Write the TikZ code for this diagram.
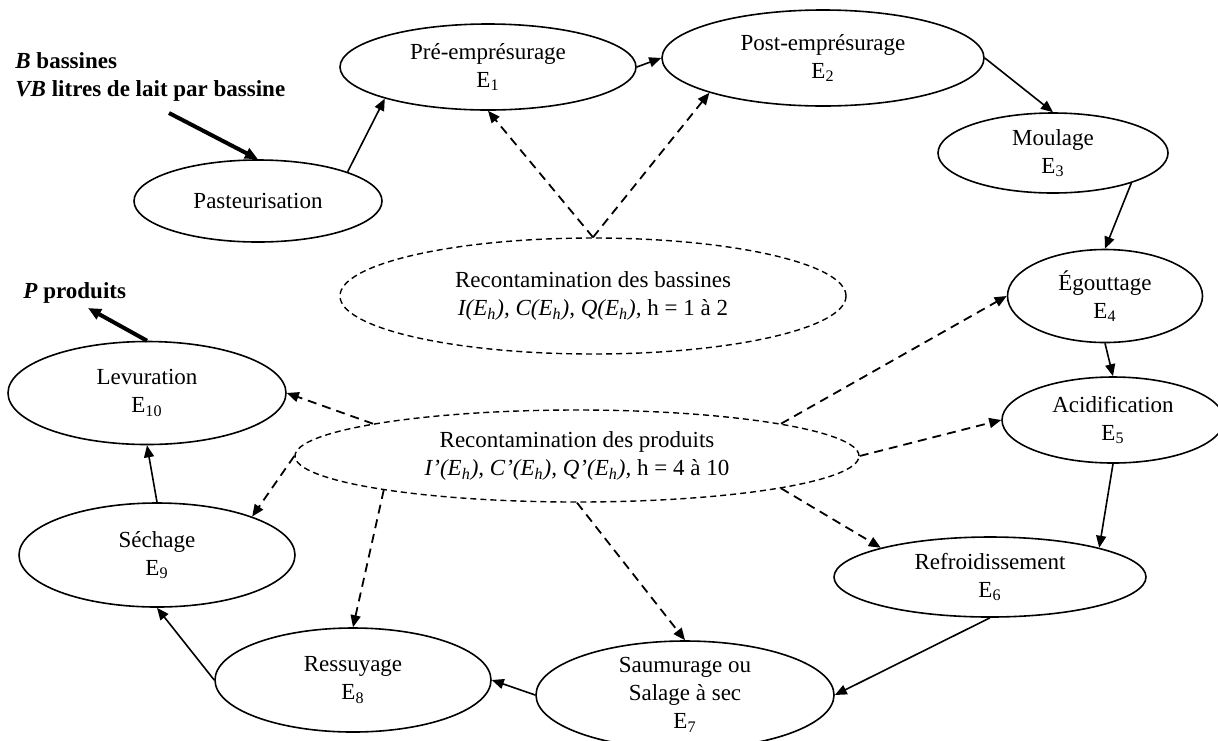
\documentclass[tikz,border=0pt]{standalone}
\usepackage{fontspec}
\setmainfont{Liberation Serif}
\usepackage{tikz}
\usetikzlibrary{arrows.meta, shapes.geometric}

\begin{document}
\begin{tikzpicture}[x=0.5pt, y=-0.5pt,
    font=\fontsize{11.5}{14}\selectfont,
    etape/.style={ellipse, draw, line width=0.8pt, inner sep=0pt, align=center},
    recont/.style={ellipse, draw, line width=0.7pt, dash pattern=on 3pt off 2pt, inner sep=0pt, align=center},
    arr/.style={-{Triangle[length=6pt, width=5pt]}, line width=0.8pt},
    darr/.style={arr, line width=0.9pt, dash pattern=on 4.5pt off 3pt},
    bigarr/.style={-{Triangle[length=6.5pt, width=5.5pt]}, line width=2pt}
  ]
    \useasboundingbox (0,0) rectangle (1218,740);

    \node[etape, minimum width=124pt, minimum height=41pt] (past) at (258,201) {Pasteurisation};
    \node[etape, minimum width=148pt, minimum height=43pt] (pre) at (488,67) {Pré-emprésurage\\ E\textsubscript{1}};
    \node[etape, minimum width=161pt, minimum height=48pt] (post) at (823,58) {Post-emprésurage\\ E\textsubscript{2}};
    \node[etape, minimum width=115pt, minimum height=40pt] (moul) at (1053,153) {Moulage\\ E\textsubscript{3}};
    \node[etape, minimum width=97.5pt, minimum height=46.5pt] (egou) at (1105,296) {Égouttage\\ E\textsubscript{4}};
    \node[etape, minimum width=111pt, minimum height=43pt] (acid) at (1113,420) {Acidification\\ E\textsubscript{5}};
    \node[etape, minimum width=156pt, minimum height=40pt] (refr) at (990,577) {Refroidissement\\ E\textsubscript{6}};
    \node[etape, minimum width=149pt, minimum height=54pt] (saum) at (685,695) {Saumurage ou\\ Salage à sec\\ E\textsubscript{7}};
    \node[etape, minimum width=138pt, minimum height=52pt] (ress) at (353,680) {Ressuyage\\ E\textsubscript{8}};
    \node[etape, minimum width=138pt, minimum height=52pt] (sech) at (157,555) {Séchage\\ E\textsubscript{9}};
    \node[etape, minimum width=139pt, minimum height=51.5pt] (levu) at (147,393) {Levuration\\ E\textsubscript{10}};

    \node[recont, minimum width=253pt, minimum height=58pt] (bas) at (593,296)
      {Recontamination des bassines\\ \textit{I(E\textsubscript{h}), C(E\textsubscript{h}), Q(E\textsubscript{h}),} h = 1 à 2};
    \node[recont, minimum width=282pt, minimum height=46pt] (prod) at (577,456)
      {Recontamination des produits\\ \textit{I’(E\textsubscript{h}), C’(E\textsubscript{h}), Q’(E\textsubscript{h}),} h = 4 à 10};

    \node[anchor=west, align=left, inner sep=0pt, font=\fontsize{11.5}{14}\selectfont\bfseries] (entree) at (15,77)
      {\textit{B} bassines\\ \textit{VB} litres de lait par bassine};
    \node[anchor=west, inner sep=0pt, font=\fontsize{11.5}{14}\selectfont\bfseries] (sortie) at (23,293) {\textit{P} produits};
    \coordinate (in) at (169,113);
    \coordinate (out) at (88,308);

    \draw[bigarr] (in) -- (past.north);
    \draw[arr] (past.18) -- (pre.197);
    \draw[arr] (pre.east) -- (post.west);
    \draw[arr] (post.east) -- (moul.north);
    \draw[arr] (moul.339) -- (egou.north);
    \draw[arr] (egou.south) -- (acid.north);
    \draw[arr] (acid.south) -- (refr.15);
    \draw[arr] (refr.south) -- (saum.east);
    \draw[arr] (saum.west) -- (ress.east);
    \draw[arr] (ress.west) -- (sech.south);
    \draw[arr] (sech.north) -- (levu.south);
    \draw[bigarr] (levu.north) -- (out);

    \draw[darr] (bas.north) -- (pre.south);
    \draw[darr] (bas.north) -- (post.197);

    \draw[darr] (prod.171) -- (levu.east);
    \draw[darr] (prod.west) -- (sech.22);
    \draw[darr] (prod.190) -- (ress.north);
    \draw[darr] (prod.south) -- (saum.north);
    \draw[darr] (prod.351) -- (refr.165);
    \draw[darr] (prod.east) -- (acid.west);
    \draw[darr] (prod.9) -- (egou.west);
  \end{tikzpicture}
\end{document}
